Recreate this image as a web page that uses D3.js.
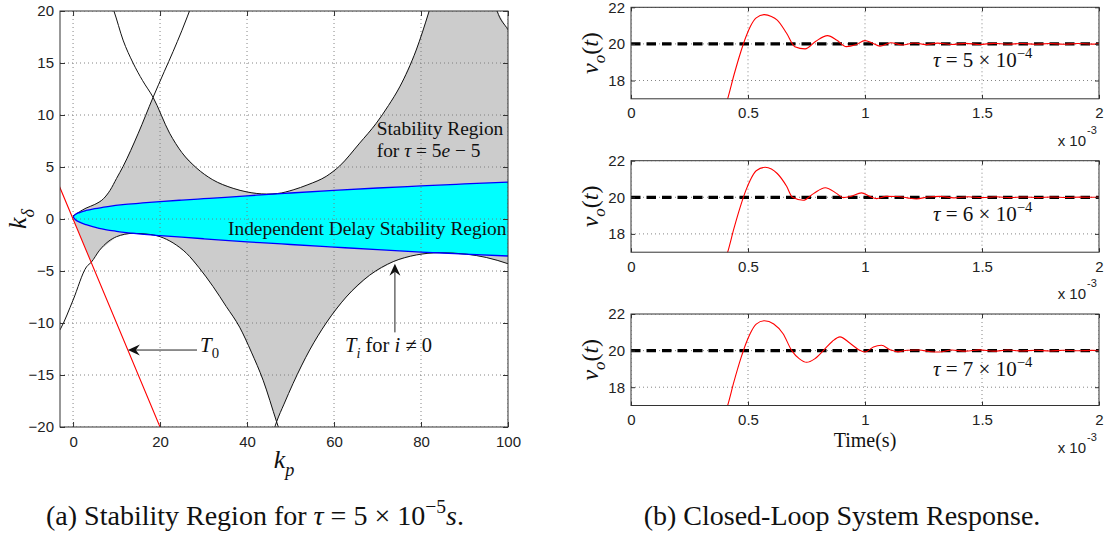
<!DOCTYPE html>
<html lang="en">
<head>
<meta charset="utf-8">
<title>Stability region and closed-loop response</title>
<script src="https://d3js.org/d3.v7.min.js"></script>
<style>
  body { margin: 0; background: #fff; }
  svg { display: block; }
  .tick text { font-family: "Liberation Sans", Arial, sans-serif; font-size: 15px; fill: #222; }
</style>
</head>
<body>
<script>
// ---------- (a) stability region data, [kp, kdelta] ----------
var kpTicks = [0, 20, 40, 60, 80, 100];
var kdTicks = [-20, -15, -10, -5, 0, 5, 10, 15, 20];

var tau0Line = [[-3.5, 3.5], [0, 0], [21, -21]];

var branchA = [[0, 0.3], [1.5, 0.7], [3, 1.05], [5, 1.4], [7, 1.95], [8.5, 2.75], [10, 3.9],
  [11.5, 5.05], [15, 8.25], [18.4, 11.7], [21, 14.2], [23, 16.1], [25, 18.1], [27.5, 20.8]];

var branchU = [[8.5, 21], [9.4, 20], [11.5, 17.2], [13.8, 15], [16, 13.3], [18.4, 11.7], [22.2, 8.25],
  [25, 6.4], [28.4, 4.9], [32, 3.8], [36.8, 2.95], [40, 2.6], [44.5, 2.4], [47, 2.45], [50.6, 2.8],
  [54, 3.3], [58.2, 4.1], [61.3, 5.1], [65.9, 7.3], [69.7, 9.2], [72.5, 10.9], [75.1, 12.7],
  [78.9, 16.25], [81.8, 19.9], [82.6, 21]];

var branchD = [[96.5, 21.5], [97.5, 20], [100, 18.2], [101, 17.5]];

var branchL1 = [[-3.5, -11], [-2.8, -10.5], [0, -7.8], [3.1, -4.6], [4.2, -4.15], [6.1, -3], [10, -1.7],
  [13.8, -1.38], [17, -1.45], [20, -1.7], [23, -2.3], [26.1, -3.3], [29, -4.7], [32.2, -6.5],
  [35.2, -8.4], [38.3, -10.4], [41, -12.8], [43.7, -15.5], [46.8, -19.5], [48, -21]];

var branchL2 = [[45.5, -21.2], [46.8, -19.5], [48.5, -17.8], [50.6, -15.8], [54.4, -12.6], [58.2, -10],
  [62.8, -7.5], [68.2, -5.4], [73.6, -4.1], [78.9, -3.46], [84.3, -3.24], [90.4, -3.38], [95, -3.7],
  [100, -4.3], [101, -4.45]];

var cyanTop = [[0, 0.2], [0.5, 0.42], [1.5, 0.62], [3, 0.82], [5, 1.0], [8, 1.2], [12, 1.4], [16, 1.55],
  [20, 1.68], [25, 1.82], [30, 1.95], [35, 2.08], [40, 2.22], [45, 2.37], [50, 2.5], [60, 2.75],
  [70, 2.98], [80, 3.18], [90, 3.37], [100, 3.55]];

var cyanBottom = [[0, 0.2], [0.5, -0.05], [1.5, -0.3], [3, -0.55], [6, -0.9], [10, -1.18], [14, -1.38],
  [20, -1.6], [25, -1.75], [30, -1.9], [35, -2.05], [40, -2.2], [45, -2.32], [50, -2.45], [60, -2.7],
  [70, -2.95], [80, -3.18], [85, -3.27], [90, -3.37], [100, -3.56]];

// annotation arrows: [tail, tip]
var arrowT0 = [[28.5, -12.6], [12.6, -12.6]];
var arrowTi = [[74, -10.9], [74, -4.3]];

// ---------- (b) closed-loop response data, t in ms (x10^-3 s) ----------
var timeTicks = [0, 0.5, 1, 1.5, 2];
var voltTicks = [18, 20, 22];
var reference = 20;
var tauLabels = ["5", "6", "7"];

var t5 = [0.40, 0.413, 0.44, 0.47, 0.49, 0.51, 0.535, 0.57, 0.60, 0.625, 0.665, 0.70, 0.744, 0.79, 0.84,
  0.88, 0.92, 0.96, 1.0, 1.03, 1.064, 1.11, 1.16, 1.21, 1.26, 1.31, 1.37, 1.43, 1.49, 1.55, 1.61, 1.67,
  1.73, 1.79, 1.85, 1.91, 1.97, 2.0];
var v5 = [16.5, 17, 18.3, 19.6, 20.35, 20.95, 21.42, 21.6, 21.5, 21.3, 20.58, 19.85, 19.73, 20.15, 20.45,
  20.2, 19.85, 19.95, 20.18, 20.05, 19.88, 20.06, 19.94, 20.05, 19.96, 20.04, 19.97, 20.03, 19.97, 20.03,
  19.98, 20.02, 19.98, 20.02, 19.98, 20.02, 19.99, 20.0];

var t6 = [0.40, 0.413, 0.44, 0.47, 0.49, 0.51, 0.535, 0.573, 0.60, 0.625, 0.665, 0.69, 0.736, 0.78, 0.83,
  0.88, 0.907, 0.94, 0.985, 1.02, 1.05, 1.09, 1.14, 1.18, 1.22, 1.27, 1.32, 1.38, 1.44, 1.50, 1.56, 1.62,
  1.68, 1.74, 1.80, 1.86, 1.92, 1.98, 2.0];
var v6 = [16.5, 17, 18.3, 19.6, 20.35, 20.95, 21.45, 21.64, 21.55, 21.3, 20.6, 20.0, 19.84, 20.2, 20.52,
  20.2, 19.98, 20.05, 20.24, 20.05, 19.93, 20.05, 20.04, 19.97, 19.91, 20.02, 20.05, 19.97, 20.03, 19.98,
  20.03, 19.98, 20.02, 19.98, 20.02, 19.99, 20.01, 20.0, 20.0];

var t7 = [0.40, 0.413, 0.44, 0.47, 0.49, 0.51, 0.535, 0.57, 0.61, 0.65, 0.687, 0.72, 0.75, 0.785, 0.822,
  0.86, 0.893, 0.936, 0.98, 1.0, 1.036, 1.07, 1.107, 1.14, 1.18, 1.23, 1.28, 1.32, 1.37, 1.43, 1.49, 1.55,
  1.61, 1.67, 1.73, 1.79, 1.85, 1.91, 1.97, 2.0];
var v7 = [16.5, 17, 18.3, 19.6, 20.35, 20.95, 21.45, 21.63, 21.45, 20.92, 20.0, 19.55, 19.36, 19.55, 20.0,
  20.5, 20.75, 20.4, 20.0, 19.92, 20.2, 20.29, 20.05, 19.93, 20.02, 20.03, 19.94, 19.92, 20.03, 19.97,
  20.04, 19.97, 20.03, 19.98, 20.02, 19.98, 20.02, 19.99, 20.01, 20.0];

var W = 1107, H = 533;
var SERIF = "Liberation Serif, Times New Roman, serif";
var SANS = "Liberation Sans, Arial, sans-serif";
var svg = d3.select("body").append("svg").attr("width", W).attr("height", H);
var defs = svg.append("defs");

// serif text element
function mtext(parent, size) {
  return parent.append("text").attr("font-family", SERIF).attr("font-size", size).attr("fill", "#111");
}

// write a run of text parts (italic / sub / sup) into a text element
function rich(sel, parts, size) {
  var shift = 0;
  parts.forEach(function(p) {
    var ts = sel.append("tspan").text(p.t);
    var target = p.sub ? size * 0.3 : (p.sup ? -size * 0.42 : 0);
    if (target !== shift) { ts.attr("dy", target - shift); shift = target; }
    if (p.sub || p.sup) ts.attr("font-size", size * 0.7);
    if (p.i) ts.attr("font-style", "italic");
  });
  return sel;
}

function gridLines(g, x, y, xt, yt, w, h) {
  g.append("g").selectAll("line").data(xt).join("line")
    .attr("x1", d => x(d)).attr("x2", d => x(d)).attr("y1", 0).attr("y2", h);
  g.append("g").selectAll("line").data(yt).join("line")
    .attr("y1", d => y(d)).attr("y2", d => y(d)).attr("x1", 0).attr("x2", w);
  g.selectAll("g line").attr("stroke", "#777").attr("stroke-width", 0.9).attr("stroke-dasharray", "1,3");
}

function drawBox(g, x, y, xt, yt, w, h, tick) {
  var fmt = d3.format("~g");
  var ax = [
    g.append("g").attr("transform", "translate(0," + h + ")")
      .call(d3.axisBottom(x).tickValues(xt).tickSize(-tick).tickPadding(9).tickFormat(fmt)),
    g.append("g").call(d3.axisTop(x).tickValues(xt).tickSize(-tick).tickFormat("")),
    g.append("g").call(d3.axisLeft(y).tickValues(yt).tickSize(-tick).tickPadding(6).tickFormat(fmt)),
    g.append("g").attr("transform", "translate(" + w + ",0)")
      .call(d3.axisRight(y).tickValues(yt).tickSize(-tick).tickFormat(""))
  ];
  ax.forEach(function(a) {
    a.select(".domain").remove();
    a.selectAll(".tick line").attr("stroke", "#333");
    a.attr("font-size", null).attr("font-family", null);
  });
  g.append("rect").attr("width", w).attr("height", h)
    .attr("fill", "none").attr("stroke", "#333").attr("stroke-width", 1);
}

function arrow(g, x, y, a) {
  var x1 = x(a[0][0]), y1 = y(a[0][1]), x2 = x(a[1][0]), y2 = y(a[1][1]);
  var ang = Math.atan2(y2 - y1, x2 - x1);
  var L = 12, Wd = 5.5, N = 8;
  g.append("line").attr("x1", x1).attr("y1", y1)
    .attr("x2", x2 - N * Math.cos(ang)).attr("y2", y2 - N * Math.sin(ang))
    .attr("stroke", "#222").attr("stroke-width", 1);
  var c = Math.cos(ang), s = Math.sin(ang);
  var pts = [[0, 0], [-L, -Wd], [-N, 0], [-L, Wd]].map(function(p) {
    return [x2 + p[0] * c - p[1] * s, y2 + p[0] * s + p[1] * c];
  });
  g.append("path").attr("d", "M" + pts.join("L") + "Z").attr("fill", "#111");
}

// ================= (a) =================
var A = { left: 60, top: 11, w: 448, h: 416 };
var ga = svg.append("g").attr("transform", "translate(" + A.left + "," + A.top + ")");
var xa = d3.scaleLinear().domain([-3, 100]).range([0, A.w]);
var ya = d3.scaleLinear().domain([-20, 20]).range([A.h, 0]);

defs.append("clipPath").attr("id", "clipA").append("rect").attr("width", A.w).attr("height", A.h);
var pa = ga.append("g").attr("clip-path", "url(#clipA)");

var lin = d3.line().x(d => xa(d[0])).y(d => ya(d[1]));
var smooth = d3.line().x(d => xa(d[0])).y(d => ya(d[1])).curve(d3.curveMonotoneX);

var crossKp = 18.4, xKp = 46.8;
var upperGray = branchA.filter(d => d[0] <= crossKp)
  .concat(branchU.filter(d => d[0] > crossKp))
  .concat(branchD.filter(d => d[0] <= 100))
  .concat(cyanTop.slice().reverse());
var lowerGray = cyanBottom
  .concat(branchL2.filter(d => d[0] >= xKp && d[0] <= 100).reverse())
  .concat(branchL1.filter(d => d[0] <= xKp && d[0] >= 4.2).reverse())
  .concat([tau0Line[1]]);

pa.append("path").attr("d", lin(upperGray) + "Z").attr("fill", "#cccccc");
pa.append("path").attr("d", lin(lowerGray) + "Z").attr("fill", "#cccccc");
pa.append("path").attr("d", lin(cyanTop.concat(cyanBottom.slice().reverse())) + "Z").attr("fill", "#00ffff");

gridLines(pa, xa, ya, kpTicks, kdTicks, A.w, A.h);

[branchA, branchU, branchD, branchL1, branchL2].forEach(function(b) {
  pa.append("path").attr("d", smooth(b)).attr("fill", "none").attr("stroke", "#111").attr("stroke-width", 1);
});
[cyanTop, cyanBottom].forEach(function(b) {
  pa.append("path").attr("d", smooth(b)).attr("fill", "none").attr("stroke", "#0000ff").attr("stroke-width", 1.3);
});
pa.append("path").attr("d", lin(tau0Line)).attr("fill", "none").attr("stroke", "#ff0000").attr("stroke-width", 1.1);

drawBox(ga, xa, ya, kpTicks, kdTicks, A.w, A.h, 5);

arrow(ga, xa, ya, arrowT0);
arrow(ga, xa, ya, arrowTi);

mtext(ga, 19.4).attr("x", 316.7).attr("y", 123.5).text("Stability Region");
rich(mtext(ga, 19.4).attr("x", 316.7).attr("y", 145.5),
  [{ t: "for " }, { t: "τ", i: true }, { t: " = 5" }, { t: "e", i: true }, { t: " − 5" }], 19.4);
mtext(ga, 19.4).attr("x", 168).attr("y", 224).text("Independent Delay Stability Region");
rich(mtext(ga, 21).attr("x", 140).attr("y", 341), [{ t: "T", i: true }, { t: "0", sub: true }], 21);
rich(mtext(ga, 20.5).attr("x", 285).attr("y", 341),
  [{ t: "T", i: true }, { t: "i", sub: true, i: true }, { t: " for " }, { t: "i", i: true }, { t: " ≠ 0" }], 20.5);

rich(mtext(svg, 26).attr("x", 284).attr("y", 468).attr("text-anchor", "middle"),
  [{ t: "k", i: true }, { t: "p", sub: true, i: true }], 26);
rich(mtext(svg, 26).attr("transform", "translate(26,219) rotate(-90)").attr("text-anchor", "middle"),
  [{ t: "k", i: true }, { t: "δ", sub: true, i: true }], 26);

rich(mtext(svg, 28).attr("x", 255).attr("y", 525).attr("text-anchor", "middle"),
  [{ t: "(a) Stability Region for " }, { t: "τ", i: true }, { t: " = 5 × 10" },
  { t: "−5", sup: true }, { t: "s", i: true }, { t: "." }], 28);

// ================= (b) =================
var B = { left: 631, w: 468, h: 91.5, tops: [7.3, 160.7, 314] };
var xb = d3.scaleLinear().domain([0, 2]).range([0, B.w]);
var yb = d3.scaleLinear().domain([17, 22]).range([B.h, 0]);
var resp = [[t5, v5], [t6, v6], [t7, v7]];
var curveB = d3.line().x(d => xb(d[0])).y(d => yb(d[1])).curve(d3.curveMonotoneX);

resp.forEach(function(r, i) {
  var g = svg.append("g").attr("transform", "translate(" + B.left + "," + B.tops[i] + ")");
  defs.append("clipPath").attr("id", "clipB" + i).append("rect").attr("width", B.w).attr("height", B.h);
  var p = g.append("g").attr("clip-path", "url(#clipB" + i + ")");
  gridLines(p, xb, yb, timeTicks, voltTicks, B.w, B.h);
  p.append("line").attr("x1", xb(0)).attr("x2", xb(2)).attr("y1", yb(reference)).attr("y2", yb(reference))
    .attr("stroke", "#000").attr("stroke-width", 3.2).attr("stroke-dasharray", "9.5,6");
  var pts = r[0].map(function(t, k) { return [t, r[1][k]]; });
  p.append("path").attr("d", curveB(pts)).attr("fill", "none").attr("stroke", "#ff0000").attr("stroke-width", 1.1);
  drawBox(g, xb, yb, timeTicks, voltTicks, B.w, B.h, 4);

  rich(mtext(g, 21).attr("x", 302).attr("y", 60 + (i === 2 ? 2 : 0)),
    [{ t: "τ", i: true }, { t: " = " + tauLabels[i] + " × 10" }, { t: "−4", sup: true }], 21);
  rich(mtext(g, 24).attr("transform", "translate(-33," + (B.h / 2) + ") rotate(-90)").attr("text-anchor", "middle"),
    [{ t: "v", i: true }, { t: "o", sub: true, i: true }, { t: "(" }, { t: "t", i: true }, { t: ")" }], 24);
  g.append("text").attr("x", B.w - 13).attr("y", B.h + 47).attr("text-anchor", "end")
    .attr("font-family", SANS).attr("font-size", 15).attr("fill", "#222").text("x 10");
  g.append("text").attr("x", B.w - 12).attr("y", B.h + 35)
    .attr("font-family", SANS).attr("font-size", 11).attr("fill", "#222").text("-3");
});

mtext(svg, 20).attr("x", 865).attr("y", 446.5).attr("text-anchor", "middle").text("Time(s)");
mtext(svg, 28).attr("x", 842).attr("y", 525).attr("text-anchor", "middle").text("(b) Closed-Loop System Response.");
</script>
</body>
</html>
